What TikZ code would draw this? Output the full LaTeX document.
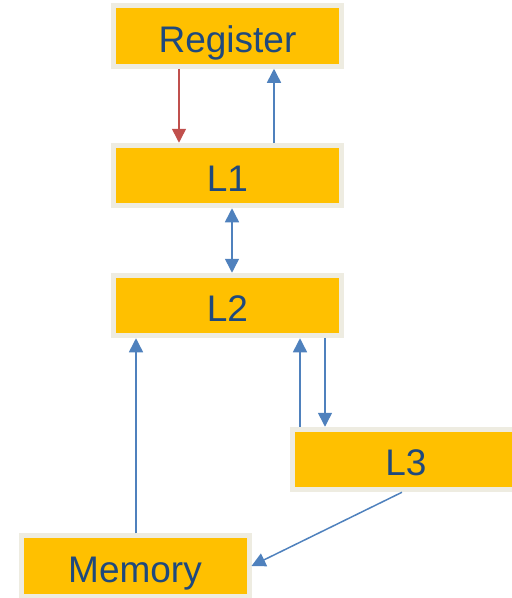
\documentclass[tikz,border=0pt]{standalone}
\usepackage{fontspec}
\setmainfont{Liberation Sans}
\usetikzlibrary{arrows.meta}
\definecolor{boxfill}{HTML}{FFC000}
\definecolor{boxedge}{HTML}{EEECE1}
\definecolor{txtblue}{HTML}{1F497D}
\definecolor{linkblue}{HTML}{4F81BD}
\definecolor{linkred}{HTML}{C0504D}
\begin{document}
\begin{tikzpicture}[x=1pt,y=-1pt,
  box/.style={draw=boxedge, fill=boxfill, line width=5pt, inner sep=0pt,
    minimum width=228pt, minimum height=60.5pt, text=txtblue,
    font=\fontsize{37}{44}\selectfont, text height=34.4pt, text depth=1.8pt},
  link/.style={draw=linkblue, line width=1.5pt, -{Triangle[width=14pt,length=14pt]}},
  redlink/.style={link, draw=linkred, -{Triangle[width=14pt,length=14pt,fill=linkred]}},
  twoway/.style={link, {Triangle[width=14pt,length=14pt]}-{Triangle[width=14pt,length=14pt]}}]
\useasboundingbox (0,0) rectangle (512,598);
\clip (0,0) rectangle (512,598);
\node[box] (reg) at (227.5,36) {Register};
\node[box] (l1) at (227.5,175.5) {L1};
\node[box] (l2) at (227.5,305.5) {L2};
\node[box] (l3) at (406,459.5) {L3};
\node[box] (mem) at (135,566) {Memory};
\draw[redlink] (reg.south -| 179,0) -- (l1.north -| 179,0);
\draw[link] (l1.north -| 274,0) -- (reg.south -| 274,0);
\draw[twoway] (l1.south -| 232,0) -- (l2.north -| 232,0);
\draw[link] (mem.north -| 136,0) -- (l2.south -| 136,0);
\draw[link] (l3.north -| 300,0) -- (l2.south -| 300,0);
\draw[link] (l2.south -| 325,0) -- (l3.north -| 325,0);
\draw[link] (l3.south -| 402,0) -- (mem.east);
\end{tikzpicture}
\end{document}
